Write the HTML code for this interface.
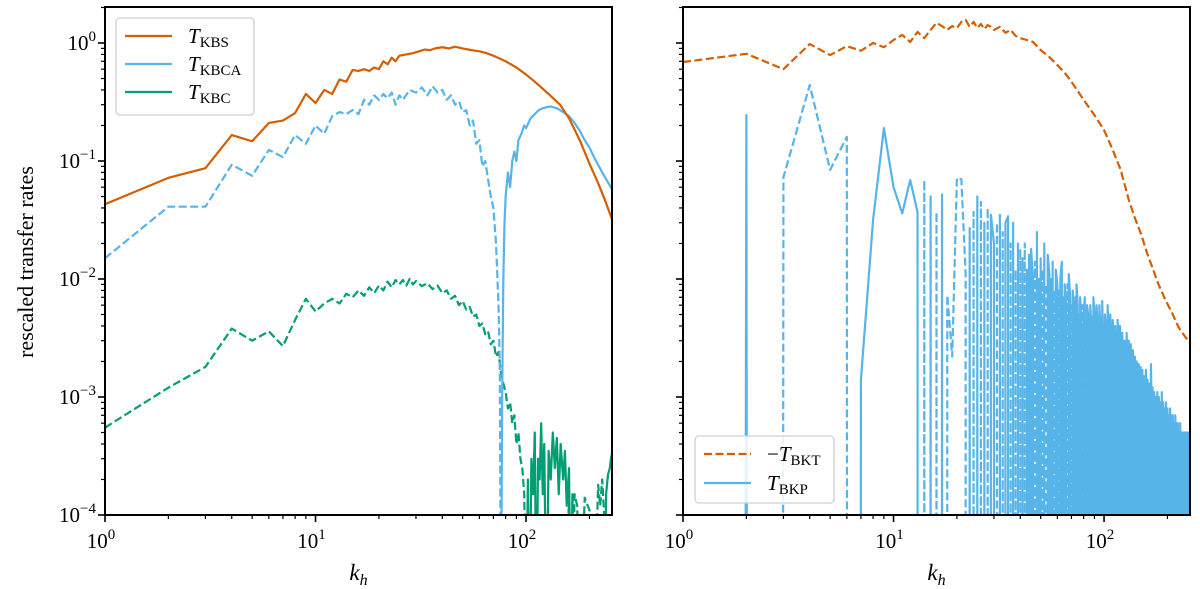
<!DOCTYPE html>
<html><head><meta charset="utf-8"><style>
html,body{margin:0;padding:0;background:#fff;overflow:hidden;width:1200px;height:589px;}
svg{display:block;font-family:"Liberation Serif",serif;overflow:hidden;}
</style></head><body>
<svg id="chart" width="1200" height="589" viewBox="0 0 1200 589" xmlns="http://www.w3.org/2000/svg">
<defs>
<clipPath id="clipL"><rect x="105" y="7" width="507" height="508"/></clipPath>
<clipPath id="clipR"><rect x="683" y="7" width="507" height="508"/></clipPath>
</defs>
<g id="gL"></g>
<g id="gR"></g>
</svg>
<script>
// ---------- data ----------
const kbsK=[1,2,3,4,5,6,7,8,9,10,11,12,13,14,15,16,17,18,19,20,21,22,23,24,25,27,29,31,33,35,37,40,43,46,50,55,60,65,70,80,90,100,110,120,130,145,160,180,200,220,240,256];
const kbsV=[0.043,0.072,0.087,0.166,0.147,0.21,0.22,0.255,0.37,0.31,0.40,0.37,0.49,0.47,0.59,0.58,0.6,0.58,0.62,0.6,0.7,0.66,0.75,0.7,0.78,0.8,0.82,0.85,0.88,0.87,0.9,0.92,0.9,0.93,0.9,0.87,0.85,0.82,0.78,0.7,0.62,0.54,0.47,0.41,0.36,0.3,0.23,0.15,0.095,0.065,0.044,0.032];
const kbcaNegK=[1,2,3,4,5,6,7,8,9,10,11,12,13,14,15,16,17,18,19,20,21,22,23,24,25,26,28,30,32,34,36,38,40,42,44,46,48,50,52,54,56,58,60,62,64,66,68,70,72,74,75,76];
const kbcaNegV=[0.015,0.041,0.041,0.093,0.075,0.124,0.108,0.166,0.14,0.2,0.17,0.24,0.26,0.25,0.27,0.25,0.33,0.3,0.36,0.33,0.37,0.34,0.38,0.3,0.36,0.33,0.4,0.38,0.42,0.36,0.43,0.38,0.4,0.33,0.36,0.3,0.32,0.26,0.27,0.2,0.22,0.14,0.15,0.09,0.1,0.07,0.05,0.04,0.02,0.006,0.002,0.00001];
const kbcaPosK=[76,77,78,79,80,82,84,86,88,90,92,95,98,100,105,110,115,120,130,140,150,160,170,180,190,200,215,230,245,256];
const kbcaPosV=[0.00001,0.001,0.01,0.03,0.05,0.08,0.06,0.1,0.12,0.1,0.15,0.17,0.2,0.19,0.23,0.25,0.27,0.28,0.29,0.28,0.26,0.24,0.21,0.18,0.15,0.13,0.1,0.08,0.066,0.058];
const kbcNegK=[1,2,3,4,5,6,7,8,9,10,11,12,13,14,15,16,17,18,19,20,21,22,23,24,25,26,27,28,29,30,32,34,36,38,40,42,44,46,48,50,52,54,56,58,60,62,64,66,68,70,72,74,76,78,80,82,84,86,88,90,92,94,96,98,100,150,160,165,170,175,180,190,200,210,220,225,230,235,240];
const kbcNegV=[5.5e-4,1.2e-3,1.8e-3,3.8e-3,3.0e-3,3.6e-3,2.7e-3,4.5e-3,6.8e-3,5.3e-3,6.2e-3,6.8e-3,6.2e-3,7.5e-3,7e-3,8e-3,7.2e-3,8.5e-3,7.6e-3,8.8e-3,8e-3,9.5e-3,8.5e-3,9.8e-3,9e-3,9.8e-3,8.8e-3,10e-3,9e-3,9.6e-3,8.7e-3,9.2e-3,8.2e-3,8.8e-3,7.6e-3,8e-3,6.8e-3,7.2e-3,6e-3,6.5e-3,5.5e-3,5.8e-3,4.8e-3,5e-3,4e-3,4.2e-3,3.4e-3,3.6e-3,2.8e-3,3e-3,2.2e-3,2.4e-3,1.6e-3,1.3e-3,1.1e-3,8e-4,9e-4,6e-4,7e-4,4e-4,5e-4,3e-4,2.5e-4,1.5e-4,1e-5,1e-5,1.3e-4,1e-5,1.5e-4,1.2e-4,1e-5,1.4e-4,1.1e-4,1e-5,1.8e-4,1.2e-4,2e-4,1e-4,1e-5];
const kbcPosK=[100,102,104,106,108,110,112,114,116,118,120,122,125,128,131,134,137,140,143,146,150,153,156,160,163,166,170,200,235,240,245,250,253,256];
const kbcPosV=[1e-5,2e-4,1e-5,3e-4,1.5e-4,5e-4,1e-5,3e-4,2e-4,6e-4,1.5e-4,4e-4,1e-5,3.5e-4,2e-4,5e-4,2.5e-4,4.5e-4,1.5e-4,4e-4,2e-4,3.5e-4,1.2e-4,2.5e-4,1e-5,1.5e-4,1e-5,1e-5,1e-5,1.5e-4,2.2e-4,2.5e-4,3e-4,3.3e-4];
const bktK=[1,2,3,4,5,6,7,8,9,10,11,12,13,14,15,16,17,18,19,20,21,22,23,24,25,26,27,28,29,30,32,34,36,38,40,43,46,50,55,60,65,70,80,90,100,110,120,131,140,150,160,170,180,196,210,226,244,256];
const bktV=[0.69,0.81,0.60,0.98,0.79,0.94,0.86,1.0,0.92,1.06,1.17,1.02,1.24,1.10,1.29,1.48,1.39,1.29,1.39,1.34,1.51,1.57,1.37,1.51,1.34,1.45,1.31,1.42,1.37,1.29,1.37,1.22,1.29,1.15,1.10,1.06,1.02,0.87,0.76,0.65,0.56,0.47,0.33,0.245,0.183,0.124,0.084,0.047,0.033,0.024,0.0166,0.0124,0.0093,0.0066,0.0052,0.0039,0.0032,0.0029];
const bkpV=[0,0.245,-0.073,-0.44,-0.084,-0.16,0.0014,0.032,0.19,0.06,
0.036,0.069,0.037,-0.069,0.05,-0.037,0.052,-0.0073,-0.0022,-0.072,
-0.07,-0.011,0.027,-0.037,0.05,-0.045,0.03,-0.04,0.035,0.02,
-0.03,0.035,-0.025,0.03,0.034,-0.02,0.03,-0.012,0.02,-0.018,
0.015,-0.02,0.012,-0.016,0.018,0.01,-0.014,0.025,-0.01,0.015,
-0.012,0.02,-0.009,0.016,0.011,-0.01,0.014,-0.008,0.012,0.009,
-0.008,0.01,0.014,-0.007,0.009,0.006,-0.009,0.011,0.007,-0.006,
0.008,0.005,-0.007,0.009,0.006,-0.005,0.007,0.004,-0.006,0.005,
0.007,-0.004,0.006,0.005,-0.005,0.006,0.004,-0.005,0.007,0.005,
-0.004,0.006,0.0045,-0.003,0.006,0.004,-0.005,0.0065,0.003,-0.004,
0.005,0.004,-0.003,0.006,0.0035,-0.004,0.005,0.003,-0.003,0.0045,
0.003,-0.0035,0.004,0.0025,-0.003,0.0045,0.003,-0.0025,0.004,0.0022,
-0.003,0.0035,0.002,-0.0025,0.003,0.0022,-0.002,0.0035,0.0018,-0.0025,
0.003,0.002,-0.002,0.0028,0.0017,-0.002,0.0025,0.0015,-0.0018,0.0022,
0.0016,-0.0015,0.002,0.0013,-0.0017,0.0019,0.0012,-0.0014,0.0018,0.0011,
-0.0013,0.0017,0.001,-0.0012,0.0015,0.0011,-0.001,0.0017,0.0009,-0.0011,
0.0014,0.001,-0.0009,0.0013,0.0008,-0.001,0.0019,0.0009,-0.0008,0.0012,
0.0008,-0.0009,0.0011,0.0007,-0.0008,0.001,0.0007,-0.0007,0.0011,0.0006,
-0.0008,0.001,0.0006,-0.0007,0.0009,0.0006,-0.0006,0.0011,0.0005,-0.0007,
0.0009,0.0006,-0.0006,0.0008,0.0005,-0.0006,0.0009,0.0005,-0.0005,0.0008,
0.0005,-0.0006,0.0007,0.0004,-0.0005,0.0008,0.0005,-0.0004,0.0007,0.0004,
-0.0005,0.0007,0.0004,-0.0004,0.0006,0.0004,-0.0005,0.0007,0.0004,-0.0004,
0.0006,0.0003,-0.0004,0.0006,0.0004,-0.0004,0.0005,0.0003,-0.0004,0.0006,
0.0004,-0.0003,0.0005,0.0003,-0.0004,0.0005,0.0003,-0.0003,0.0005,0.0004,
-0.0003,0.0005,0.0004,-0.0003,0.0005,0.0003,-0.0003,0.0005,0.0004,-0.0003,
0.0005,0.0004,-0.0003,0.0005,0.0004,0.0004];
const bkpK=bkpV.map((v,i)=>i+1);
const xTickVals=[1,10,100];
const xTickExp=["0","1","2"];
const yTickVals=[1,0.1,0.01,0.001,0.0001];
const yTickExp=["0","−1","−2","−3","−4"];

// ---------- axes ----------
const NS="http://www.w3.org/2000/svg";
const TOP=7,BOT=515,W=507,XLOGMAX=Math.log10(256),YLMIN=-4,YLMAX=0.305;
const ORANGE="#d55e00",BLUE="#56b4e9",GREEN="#009e73";
function xs(k,x0){return x0+Math.log10(k)/XLOGMAX*W;}
function ys(v){const l=v>0?Math.log10(v):-400;return BOT-(l-YLMIN)/(YLMAX-YLMIN)*(BOT-TOP);}
function mk(tag,attrs,parent){const e=document.createElementNS(NS,tag);for(const a in attrs)e.setAttribute(a,attrs[a]);parent.appendChild(e);return e;}
function line(parent,K,V,x0,color,dashed,clip,name){
  let d="";K.forEach((k,i)=>{d+=(i?"L":"M")+xs(k,x0).toFixed(2)+","+Math.max(-50,Math.min(200000,ys(V[i]))).toFixed(2);});
  const p=mk("path",{d:d,fill:"none",stroke:color,"stroke-width":2.2,"stroke-linejoin":"round","clip-path":"url(#"+clip+")"},parent);
  if(dashed)p.setAttribute("stroke-dasharray","8,3.5");
  
  
}
function axes(g,x0,showY){
  const ax=mk("g",{},g);
  
  
  for(let e=0;e<3;e++)for(let m=1;m<10;m++){const k=m*Math.pow(10,e);if(k>256)continue;const x=xs(k,x0);
    const t=mk("line",{x1:x,x2:x,y1:BOT,y2:BOT+(m==1?7:4),stroke:"#000","stroke-width":m==1?1.6:1.2},ax);
    }
  xTickVals.forEach((k,i)=>{const t=mk("text",{x:xs(k,x0)-4,y:548,"font-size":21,"text-anchor":"middle"},ax);
    
    t.textContent="10";const s=mk("tspan",{dy:-9,"font-size":15},t);s.textContent=xTickExp[i];});
  for(let e=-4;e<=0;e++)for(let m=1;m<10;m++){const v=m*Math.pow(10,e);if(Math.log10(v)>YLMAX)continue;const y=ys(v);
    const t=mk("line",{x1:x0,x2:x0-(m==1?7:4),y1:y,y2:y,stroke:"#000","stroke-width":m==1?1.6:1.2},ax);
    }
  if(showY)yTickVals.forEach((v,i)=>{const t=mk("text",{x:96,y:ys(v)+7,"font-size":21,"text-anchor":"end"},ax);
    
    t.textContent="10";const s=mk("tspan",{dy:-9,"font-size":15},t);s.textContent=yTickExp[i];});
  const r=mk("rect",{x:x0,y:TOP,width:W,height:BOT-TOP,fill:"none",stroke:"#000","stroke-width":2},ax);
  
  const xl=mk("text",{x:x0+W/2,y:580,"font-size":23,"font-style":"italic","text-anchor":"middle"},ax);
  
  xl.textContent="k";const s=mk("tspan",{dy:5,"font-size":16},xl);s.textContent="h";
}
function legend(g,x,y,w,h,entries,name){
  const lg=mk("g",{},g);
  
  mk("rect",{x:x,y:y,width:w,height:h,rx:4,fill:"#fff","fill-opacity":0.85,stroke:"#d0d0d0","stroke-width":1.3},lg);
  entries.forEach((en,i)=>{const yy=y+18+i*(en.step);
    const e=mk("g",{},lg);
    const l=mk("line",{x1:x+9,x2:x+56,y1:yy,y2:yy,stroke:en.c,"stroke-width":2.2},e);
    if(en.d)l.setAttribute("stroke-dasharray","8,3.5");
    const t=mk("text",{x:x+72,y:yy+7,"font-size":21},e);
    if(en.pre){const p=mk("tspan",{},t);p.textContent=en.pre;}
    const T=mk("tspan",{"font-style":"italic"},t);T.textContent="T";
    const s=mk("tspan",{dy:4,"font-size":15},t);s.textContent=en.sub;});
}
const gL=document.getElementById("gL"),gR=document.getElementById("gR");
const LX=105,RX=683;
line(gL,kbcNegK,kbcNegV,LX,GREEN,true,"clipL","kbc-negative-line");
line(gL,kbcPosK,kbcPosV,LX,GREEN,false,"clipL","kbc-positive-line");
line(gL,kbcaNegK,kbcaNegV,LX,BLUE,true,"clipL","kbca-negative-line");
line(gL,kbcaPosK,kbcaPosV,LX,BLUE,false,"clipL","kbca-positive-line");
line(gL,kbsK,kbsV,LX,ORANGE,false,"clipL","kbs-line");
axes(gL,LX,true);
legend(gL,116,18,138,97,[{c:ORANGE,d:false,sub:"KBS",step:28},{c:BLUE,d:false,sub:"KBCA",step:28},{c:GREEN,d:false,sub:"KBC",step:28}],"legend-left");
const yt=mk("text",{x:0,y:0,"font-size":22,"text-anchor":"middle",transform:"translate(33,262) rotate(-90)"},gL);

yt.textContent="rescaled transfer rates";

line(gR,bkpK,bkpV.map(v=>v>0?v:1e-300),RX,BLUE,false,"clipR","bkp-positive-line");
line(gR,bkpK,bkpV.map(v=>v<0?-v:1e-300),RX,BLUE,true,"clipR","bkp-negative-line");
line(gR,bktK,bktV,RX,ORANGE,true,"clipR","bkt-line");
axes(gR,RX,false);
const lgR=[{c:ORANGE,d:true,pre:"−",sub:"BKT",step:29},{c:BLUE,d:false,sub:"BKP",step:29}];
legend(gR,695,436,139,67,lgR,"legend-right");
</script>
</body></html>
